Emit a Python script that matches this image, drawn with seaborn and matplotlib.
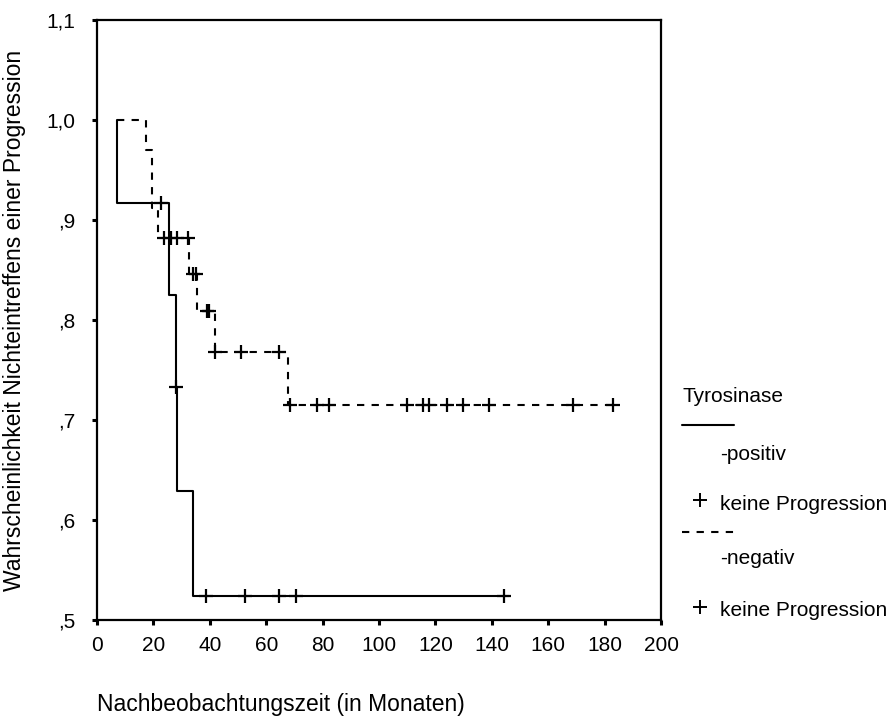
import matplotlib
matplotlib.use("Agg")
import matplotlib.pyplot as plt
import seaborn as sns
import pandas as pd
from matplotlib.lines import Line2D

# ---- data ----
pos_times = [7, 7, 25.6, 28.0, 28.5, 34.1, 146]
pos_surv = [1.0, 0.917, 0.825, 0.733, 0.629, 0.524, 0.524]
pos_cens_times = [22.8, 27.9, 38.7, 52.4, 64.4, 70.6, 144.4]
pos_cens_surv = [0.917, 0.733, 0.524, 0.524, 0.524, 0.524, 0.524]

neg_times = [7, 17.4, 19.5, 21.6, 32.7, 35.4, 41.8, 67.6, 184.8]
neg_surv = [1.0, 0.970, 0.912, 0.882, 0.846, 0.809, 0.768, 0.715, 0.715]
neg_cens_times = [23.8, 26.2, 28.5, 32.4, 33.9, 35.1, 39.1, 39.7, 41.8, 51.0, 64.6,
                  68.5, 77.9, 82.4, 110.0, 115.5, 117.8, 124.0, 129.9, 139.1, 168.9, 182.9]
neg_cens_surv = [0.882, 0.882, 0.882, 0.882, 0.846, 0.846, 0.809, 0.809, 0.768, 0.768, 0.768,
                 0.715, 0.715, 0.715, 0.715, 0.715, 0.715, 0.715, 0.715, 0.715, 0.715, 0.715]

x_ticks = [0, 20, 40, 60, 80, 100, 120, 140, 160, 180, 200]
y_ticks = [0.5, 0.6, 0.7, 0.8, 0.9, 1.0, 1.1]
y_tick_labels = [",5", ",6", ",7", ",8", ",9", "1,0", "1,1"]

group_title = "Tyrosinase"
group_names = ["-positiv", "-negativ"]
censor_label = "keine Progression"
x_label = "Nachbeobachtungszeit (in Monaten)"
y_label = "Wahrscheinlichkeit Nichteintreffens einer Progression"

# ---- style ----
sns.set_theme(style="white")
plt.rcParams["font.family"] = ["Liberation Sans", "DejaVu Sans"]
plt.rcParams["text.color"] = "black"
plt.rcParams["xtick.color"] = "black"
plt.rcParams["ytick.color"] = "black"
FS = 15
FS_AX = 16.5
DASH = (0, (3.5, 3.5))

W, H = 896, 717
fig = plt.figure(figsize=(W / 100, H / 100), dpi=100)
ax = fig.add_axes([97 / W, 1 - 620 / H, 564 / W, 600 / H])

pos_df = pd.DataFrame({"t": pos_times, "s": pos_surv})
neg_df = pd.DataFrame({"t": neg_times, "s": neg_surv})
sns.lineplot(data=pos_df, x="t", y="s", ax=ax, estimator=None, sort=False,
             drawstyle="steps-post", color="black", linewidth=1.5)
sns.lineplot(data=neg_df, x="t", y="s", ax=ax, estimator=None, sort=False,
             drawstyle="steps-post", color="black", linewidth=1.5, dashes=False,
             linestyle=DASH)

pc = pd.DataFrame({"t": pos_cens_times, "s": pos_cens_surv})
nc = pd.DataFrame({"t": neg_cens_times, "s": neg_cens_surv})
for d in (pc, nc):
    sns.scatterplot(data=d, x="t", y="s", ax=ax, marker="+", s=95,
                    color="black", linewidth=1.6, zorder=5)

ax.set_xlim(0, 200)
ax.set_ylim(0.5, 1.1)
ax.set_xticks(x_ticks)
ax.set_xticklabels([str(v) for v in x_ticks], fontsize=FS)
ax.set_yticks(y_ticks)
ax.set_yticklabels(y_tick_labels, fontsize=FS)
ax.tick_params(axis="both", direction="out", length=3.5, width=2.2, color="black",
               bottom=True, left=True, labelcolor="black")
ax.tick_params(axis="x", pad=8)
ax.tick_params(axis="y", pad=12)
for sp in ax.spines.values():
    sp.set_visible(True)
    sp.set_color("black")
    sp.set_linewidth(1.6)
ax.set_xlabel("")
ax.set_ylabel("")

fig.text(97 / W, 1 - 704 / H, x_label, fontsize=FS_AX, ha="left", va="center")
fig.text(15 / W, 1 - 320 / H, y_label, fontsize=FS_AX, ha="center", va="center",
         rotation=90)

# ---- legend (drawn manually in figure coordinates) ----
def fx(px):
    return px / W

def fy(py):
    return 1 - py / H

fig.text(fx(682), fy(397), group_title, fontsize=FS, ha="left", va="center")
fig.add_artist(Line2D([fx(682), fx(734)], [fy(425), fy(425)], color="black", lw=1.5))
fig.text(fx(720), fy(454), group_names[0], fontsize=FS, ha="left", va="center")
fig.add_artist(Line2D([fx(700)], [fy(500)], marker="+", markersize=10, mew=1.4,
                      color="black", linestyle="none"))
fig.text(fx(720), fy(504), censor_label, fontsize=FS, ha="left", va="center")
fig.add_artist(Line2D([fx(682), fx(734)], [fy(532), fy(532)], color="black", lw=1.5,
                      linestyle=DASH))
fig.text(fx(720), fy(559), group_names[1], fontsize=FS, ha="left", va="center")
fig.add_artist(Line2D([fx(700)], [fy(607)], marker="+", markersize=10, mew=1.4,
                      color="black", linestyle="none"))
fig.text(fx(720), fy(611), censor_label, fontsize=FS, ha="left", va="center")

fig.savefig("out.png", dpi=100)
